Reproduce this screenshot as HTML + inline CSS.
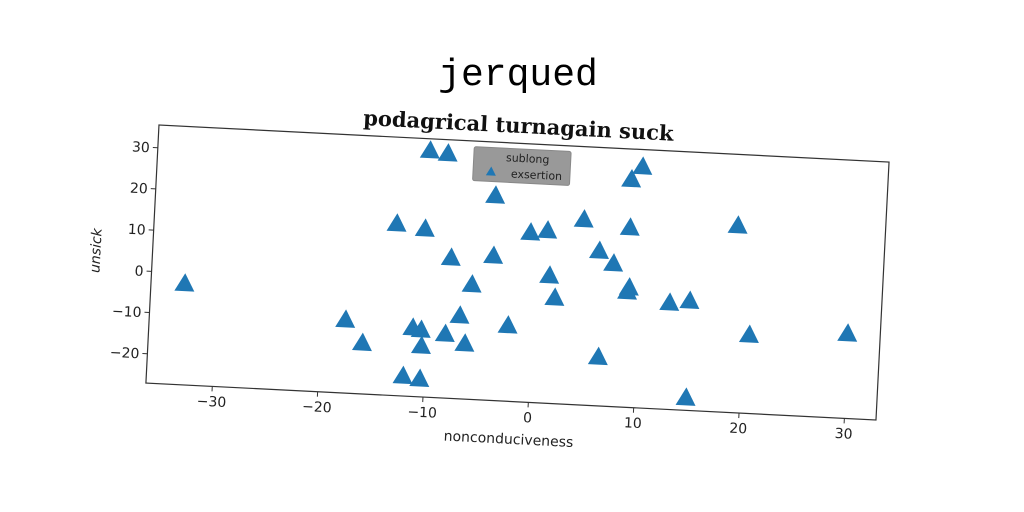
<!DOCTYPE html>
<html><head><meta charset="utf-8"><style>
html,body{margin:0;padding:0;background:#fff;}
svg{display:block;font-family:"DejaVu Sans","Liberation Sans",sans-serif;}
</style></head><body>
<svg id="chart" width="1024" height="512" viewBox="0 0 1024 512" xmlns="http://www.w3.org/2000/svg">
<rect width="1024" height="512" fill="#fff"/>
<text x="518" y="85" text-anchor="middle" font-family="Liberation Mono, monospace" font-size="38" fill="#000">jerqued</text>
<g id="rot" transform="rotate(2.9,518,272)">
<text x="511" y="133" text-anchor="middle" font-family="DejaVu Serif, Liberation Serif, serif" font-weight="bold" font-size="21" fill="#111">podagrical turnagain suck</text>
<rect x="152" y="143.4" width="731" height="258.3" fill="none" stroke="#333" stroke-width="1.2"/>
<g id="xticks"></g><g id="yticks"></g><g id="marks"></g>
<text x="517" y="444" text-anchor="middle" font-size="14" fill="#222">nonconduciveness</text>
<text transform="translate(100,272) rotate(-90)" text-anchor="middle" font-size="14" font-style="italic" fill="#222">unsick</text>
<g>
<rect x="468" y="149" width="97" height="34" rx="2" fill="#999" stroke="#888"/>
<text x="522" y="162" text-anchor="middle" font-size="11" fill="#222">sublong</text>
<path d="M481,177 l5,-9 l5,9 z" fill="#1f77b4"/>
<text x="506" y="178" font-size="11" fill="#222">exsertion</text>
</g>
</g>
</svg>
<script>
const xVals=[-33.1,-10.5,-8.8,-4.1,-13.3,-10.6,-8.0,-4.0,-5.9,-0.6,1.0,4.4,9.7,8.7,8.8,6.0,7.4,1.4,2.0,9.0,8.85,12.9,14.8,19.0,20.6,29.9,6.4,14.9,-17.7,-16.0,-11.3,-10.5,-10.4,-8.2,-6.9,-6.3,-2.3,-12.0,-10.4];
const yVals=[-2.7,32.5,32.0,22.4,14.4,13.5,6.8,7.8,0.6,13.9,14.6,17.7,31.2,28.0,16.3,10.3,7.4,3.7,-1.6,1.8,0.8,-1.4,-0.7,18.1,-8.2,-6.7,-15.4,-24.2,-9.5,-14.9,-10.6,-11.0,-14.9,-11.7,-7.1,-13.8,-8.9,-22.4,-22.9];
const xTicks=[-30,-20,-10,0,10,20,30];
const yTicks=[-20,-10,0,10,20,30];
const L=152,T=143.4,W=731,H=258.3,XMIN=-36.3,XMAX=33.0,YMIN=-27.1,YMAX=35.5;
const sx=v=>L+(v-XMIN)/(XMAX-XMIN)*W;
const sy=v=>T+(YMAX-v)/(YMAX-YMIN)*H;
const NS="http://www.w3.org/2000/svg";
function mk(t,a){const e=document.createElementNS(NS,t);for(const k in a)e.setAttribute(k,a[k]);return e;}
const xg=document.getElementById('xticks'),yg=document.getElementById('yticks'),mg=document.getElementById('marks');
xTicks.forEach(v=>{const x=sx(v);
const l=mk('line',{x1:x,x2:x,y1:T+H,y2:T+H+5,stroke:'#333'});


xg.appendChild(l);
const t=mk('text',{x:x,y:T+H+20,'text-anchor':'middle','font-size':14,fill:'#222'});t.textContent=v<0?'\u2212'+(-v):v;


xg.appendChild(t);});
yTicks.forEach(v=>{const y=sy(v);
const l=mk('line',{x1:L-5,x2:L,y1:y,y2:y,stroke:'#333'});


yg.appendChild(l);
const t=mk('text',{x:L-8,y:y+5,'text-anchor':'end','font-size':14,fill:'#222'});t.textContent=v<0?'\u2212'+(-v):v;


yg.appendChild(t);});
xVals.forEach((v,i)=>{const x=sx(v),y=sy(yVals[i]);
const p=mk('path',{d:`M${x},${y-11} L${x+10},${y+7} L${x-10},${y+7} Z`,fill:'#1f77b4'});


mg.appendChild(p);});
</script>
</body></html>
